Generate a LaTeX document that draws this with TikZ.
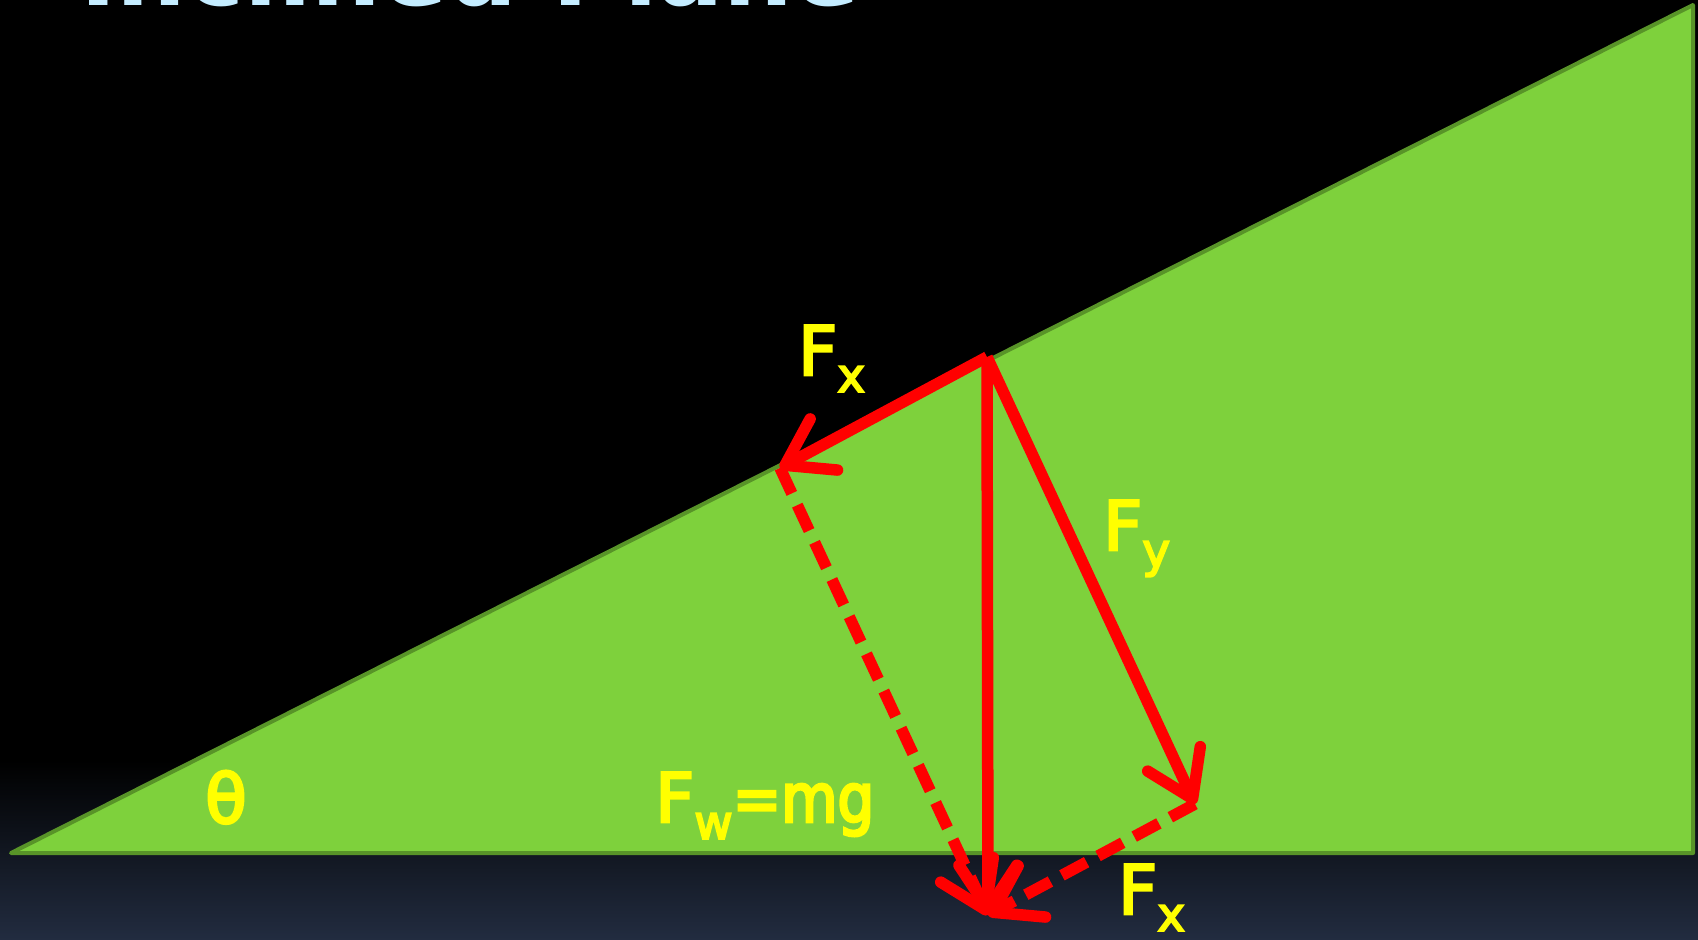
\documentclass[tikz,border=0pt]{standalone}
\usepackage{fontspec}
\setmainfont{DejaVu Sans}
\newfontfamily\labelfont[FakeBold=4]{DejaVu Sans}
\newfontfamily\narrowfont[FakeStretch=0.85,FakeBold=4]{DejaVu Sans}
\usetikzlibrary{arrows.meta}
\definecolor{slopegreen}{RGB}{126,209,60}
\definecolor{slopeedge}{RGB}{88,148,40}
\definecolor{forcered}{RGB}{255,0,0}
\definecolor{labelyellow}{RGB}{255,255,0}
\definecolor{titleblue}{RGB}{196,236,255}
\definecolor{bgnavy}{RGB}{34,44,64}
\newcommand{\subx}[1]{\raisebox{-17pt}{\fontsize{47}{50}\selectfont #1}}
\tikzset{
  force/.style={draw=forcered, line width=11.5pt,
    -{Straight Barb[length=44pt,width=58pt,round]}},
  component/.style={force, dash pattern=on 28pt off 13pt},
  forcelabel/.style={text=labelyellow, font=\labelfont\fontsize{68}{80}\selectfont,
    inner sep=0pt, anchor=base west},
  titletext/.style={text=titleblue, font=\fontsize{98}{120}\selectfont\bfseries,
    inner sep=0pt, anchor=base west},
  slope/.style={fill=slopegreen, draw=slopeedge, line width=4pt, line join=round}
}
\begin{document}
\begin{tikzpicture}[x=1pt,y=-1pt]
\useasboundingbox (0,0) rectangle (1698,940);
\clip (0,0) rectangle (1698,940);
% background
\fill[black] (0,0) rectangle (1698,761);
\shade[top color=black, bottom color=bgnavy] (0,760) rectangle (1698,940);
% title (cut off at top)
\node[titletext] (title) at (80,5) {Inclined Plane};
% inclined plane
\coordinate (A) at (11,853);
\coordinate (B) at (1693,853);
\coordinate (C) at (1693,5);
\path[slope] (A) -- (B) -- (C) -- cycle;
% force points
\coordinate (P) at (987,357);
\coordinate (FxT) at (780,468);
\coordinate (W) at (988,915);
\coordinate (FyT) at (1195,804);
% components (dashed)
\draw[component] (FxT) -- (W);
\draw[component] (FyT) -- (W);
% forces
\draw[force] (P) -- (W);
\draw[force] (P) -- (FxT);
\draw[force] (P) -- (FyT);
% labels
\node[forcelabel] (lfx) at (798,375) {F\subx{x}};
\node[forcelabel] (lfy) at (1103,550) {F\subx{y}};
\node[forcelabel] (lfx2) at (1118,914) {F\subx{x}};
\node[forcelabel] (lfw) at (655,822) {F\subx{w}{\narrowfont\fontsize{68}{80}\selectfont =mg}};
\node[forcelabel] (theta) at (205,823) {θ};
\end{tikzpicture}
\end{document}
